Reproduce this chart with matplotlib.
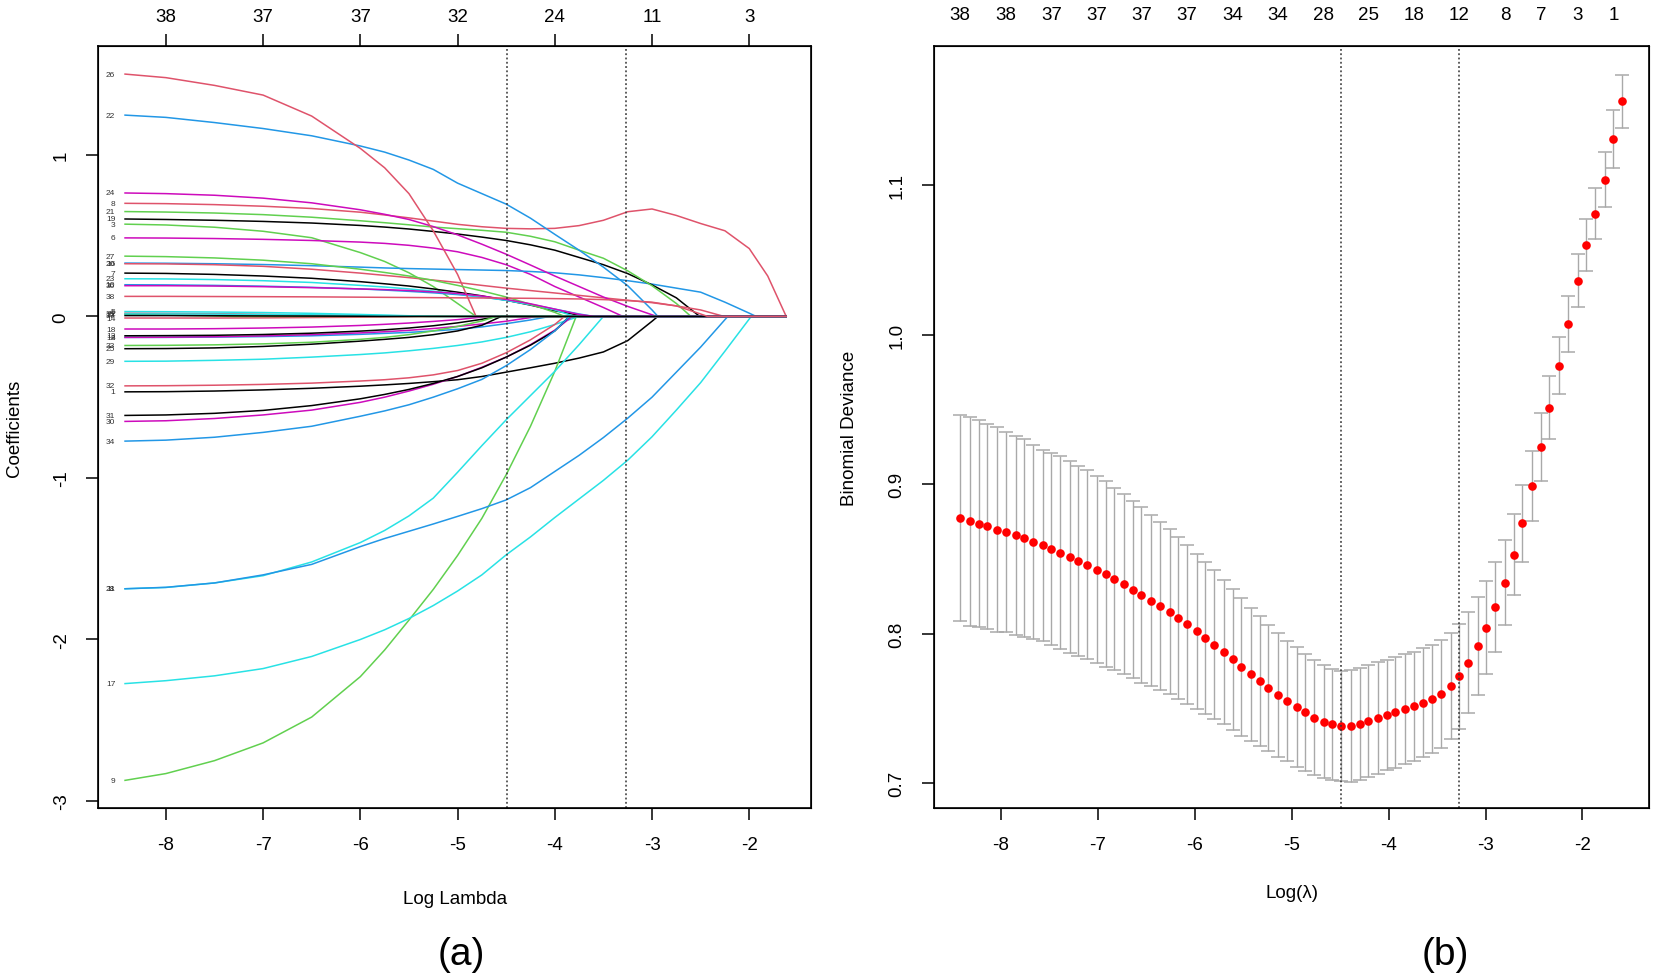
import matplotlib
matplotlib.use("Agg")
import matplotlib.pyplot as plt

plt.rcParams['font.family'] = ['Liberation Sans Narrow', 'Liberation Sans', 'DejaVu Sans']

## Panel (a): lasso coefficient paths
# knots along log(lambda) where the coefficients were read off
path_knots = [-8.42, -8.0, -7.5, -7.0, -6.5, -6.0, -5.75, -5.5, -5.25, -5.0, -4.75, -4.5,
              -4.25, -4.0, -3.75, -3.5, -3.25, -3.0, -2.75, -2.5, -2.25, -2.0, -1.81, -1.62]

# one row per variable (1..38): coefficient at each knot, trailing zeros left out
coef_rows = [
    [-0.467, -0.466, -0.462, -0.455, -0.445, -0.432, -0.424, -0.415, -0.404, -0.392, -0.372, -0.345, -0.318, -0.290, -0.258, -0.220, -0.150, -0.030],
    [0.020, 0.019, 0.017, 0.013, 0.008, 0.003, 0.001],
    [0.571, 0.566, 0.552, 0.527, 0.487, 0.395, 0.340, 0.270, 0.185, 0.080],
    [-0.130, -0.130, -0.128, -0.125, -0.120, -0.111, -0.105, -0.099, -0.090, -0.080, -0.065, -0.045, -0.022],
    [0.030, 0.029, 0.027, 0.024, 0.019, 0.012, 0.008, 0.004],
    [0.486, 0.485, 0.482, 0.477, 0.470, 0.460, 0.452, 0.440, 0.423, 0.400, 0.365, 0.320, 0.260, 0.185, 0.120, 0.055],
    [0.268, 0.266, 0.260, 0.250, 0.236, 0.215, 0.202, 0.188, 0.170, 0.150, 0.127, 0.100, 0.070, 0.035, 0.008],
    [0.700, 0.698, 0.692, 0.682, 0.668, 0.645, 0.628, 0.610, 0.590, 0.570, 0.555, 0.545, 0.542, 0.545, 0.562, 0.595, 0.648, 0.665, 0.625, 0.575, 0.530, 0.420, 0.250],
    [-2.872, -2.830, -2.750, -2.640, -2.480, -2.230, -2.065, -1.880, -1.690, -1.480, -1.250, -0.980, -0.680, -0.340],
    [0.196, 0.195, 0.192, 0.187, 0.180, 0.170, 0.163, 0.155, 0.146, 0.135, 0.120, 0.100, 0.075, 0.045, 0.015],
    [-1.686, -1.678, -1.650, -1.605, -1.520, -1.400, -1.325, -1.235, -1.125, -0.965, -0.800, -0.640, -0.490, -0.340, -0.175],
    [-0.130, -0.129, -0.126, -0.121, -0.113, -0.102, -0.095, -0.086, -0.075, -0.062, -0.047, -0.030, -0.007],
    [-0.120, -0.119, -0.117, -0.112, -0.104, -0.091, -0.083, -0.072, -0.058, -0.040, -0.018],
    [-0.010, -0.010, -0.010, -0.009, -0.007, -0.005, -0.003, -0.001],
    [0.012, 0.008, 0.003],
    [0.330, 0.329, 0.326, 0.321, 0.314, 0.305, 0.300, 0.296, 0.293, 0.290, 0.287, 0.284, 0.278, 0.270, 0.257, 0.240, 0.221, 0.200, 0.175, 0.150, 0.088, 0.020],
    [-2.273, -2.255, -2.225, -2.180, -2.105, -2.000, -1.940, -1.870, -1.790, -1.700, -1.600, -1.476, -1.365, -1.245, -1.130, -1.015, -0.890, -0.745, -0.580, -0.410, -0.215, -0.016],
    [-0.078, -0.078, -0.076, -0.072, -0.066, -0.056, -0.049, -0.041, -0.031, -0.020, -0.004],
    [0.603, 0.600, 0.595, 0.588, 0.578, 0.563, 0.553, 0.541, 0.526, 0.510, 0.491, 0.470, 0.443, 0.410, 0.365, 0.320, 0.265, 0.195, 0.115],
    [0.326, 0.325, 0.320, 0.310, 0.292, 0.268, 0.254, 0.240, 0.225, 0.210, 0.192, 0.175, 0.160, 0.145, 0.130, 0.115, 0.100, 0.085, 0.065, 0.040],
    [0.649, 0.646, 0.640, 0.630, 0.614, 0.592, 0.580, 0.567, 0.553, 0.543, 0.533, 0.521, 0.496, 0.462, 0.410, 0.360, 0.282, 0.190, 0.080],
    [1.246, 1.232, 1.200, 1.163, 1.118, 1.055, 1.017, 0.968, 0.910, 0.825, 0.760, 0.695, 0.608, 0.508, 0.410, 0.305, 0.190, 0.040],
    [0.233, 0.232, 0.228, 0.221, 0.210, 0.192, 0.182, 0.170, 0.156, 0.140, 0.121, 0.100, 0.072, 0.040],
    [0.764, 0.760, 0.750, 0.732, 0.703, 0.660, 0.632, 0.600, 0.556, 0.505, 0.447, 0.385, 0.318, 0.250, 0.185, 0.120, 0.062, 0.010],
    [-0.200, -0.199, -0.195, -0.186, -0.172, -0.153, -0.142, -0.130, -0.113, -0.090, -0.055],
    [1.500, 1.478, 1.430, 1.370, 1.240, 1.040, 0.920, 0.760, 0.530, 0.260],
    [0.373, 0.370, 0.362, 0.348, 0.326, 0.292, 0.272, 0.250, 0.223, 0.192, 0.158, 0.120, 0.075, 0.025],
    [-1.686, -1.677, -1.650, -1.600, -1.535, -1.425, -1.375, -1.330, -1.285, -1.238, -1.190, -1.136, -1.060, -0.960, -0.860, -0.750, -0.630, -0.500, -0.345, -0.190, -0.020],
    [-0.278, -0.277, -0.272, -0.265, -0.252, -0.236, -0.226, -0.213, -0.198, -0.180, -0.158, -0.130, -0.095, -0.050],
    [-0.650, -0.646, -0.632, -0.610, -0.580, -0.532, -0.500, -0.462, -0.420, -0.372, -0.315, -0.252, -0.175, -0.085],
    [-0.613, -0.610, -0.600, -0.582, -0.552, -0.510, -0.483, -0.452, -0.415, -0.372, -0.318, -0.252, -0.178, -0.090],
    [-0.430, -0.429, -0.426, -0.421, -0.413, -0.400, -0.392, -0.380, -0.362, -0.335, -0.290, -0.225, -0.145, -0.050],
    [-0.180, -0.179, -0.176, -0.170, -0.160, -0.142, -0.130, -0.113, -0.090, -0.062, -0.028],
    [-0.772, -0.766, -0.748, -0.718, -0.680, -0.618, -0.585, -0.547, -0.500, -0.448, -0.390, -0.305, -0.205, -0.090],
    [0.015, 0.015, 0.014, 0.012, 0.010, 0.007, 0.005, 0.003, 0.001],
    [0.190, 0.190, 0.188, 0.184, 0.178, 0.170, 0.166, 0.160, 0.152, 0.142, 0.126, 0.105, 0.078, 0.045, 0.012],
    [0.005, 0.005, 0.004, 0.003, 0.002, 0.001],
    [0.124, 0.124, 0.123, 0.122, 0.121, 0.119, 0.118, 0.117, 0.116, 0.115, 0.114, 0.113, 0.112, 0.110, 0.108, 0.104, 0.098, 0.088, 0.065, 0.015],
]

# log(lambda) where each variable drops out of the model
exit_at = [-2.94, -5.60, -4.81, -4.05, -5.30, -3.30, -3.70, -1.62, -3.78, -3.60,
           -3.50, -4.20, -4.60, -5.40, -7.30, -1.93, -1.98, -4.70, -2.51, -2.26,
           -2.60, -2.94, -3.80, -2.95, -4.55, -4.81, -3.90, -2.22, -3.75, -3.82,
           -3.85, -3.90, -4.60, -3.85, -5.15, -3.60, -5.80, -2.43]

top_a_pos = [-8, -7, -6, -5, -4, -3, -2]
top_a_labels = ['38', '37', '37', '32', '24', '11', '3']

## Panel (b): cross-validated binomial deviance
cv_loglam = [-8.42, -8.32, -8.23, -8.14, -8.04, -7.95, -7.85, -7.76, -7.67, -7.57,
             -7.48, -7.39, -7.29, -7.20, -7.11, -7.01, -6.92, -6.83, -6.73, -6.64,
             -6.55, -6.45, -6.36, -6.26, -6.17, -6.08, -5.98, -5.89, -5.80, -5.70,
             -5.61, -5.52, -5.42, -5.33, -5.24, -5.14, -5.05, -4.95, -4.86, -4.77,
             -4.67, -4.58, -4.49, -4.39, -4.30, -4.21, -4.11, -4.02, -3.93, -3.83,
             -3.74, -3.65, -3.55, -3.46, -3.36, -3.27, -3.18, -3.08, -2.99, -2.90,
             -2.80, -2.71, -2.62, -2.52, -2.43, -2.34, -2.24, -2.15, -2.05, -1.96,
             -1.87, -1.77, -1.68, -1.59]
cv_mean = [0.8775, 0.8752, 0.8737, 0.8719, 0.8697, 0.8681, 0.8659, 0.8641, 0.8615, 0.8592,
           0.8570, 0.8543, 0.8516, 0.8487, 0.8463, 0.8429, 0.8398, 0.8367, 0.8334, 0.8296,
           0.8260, 0.8222, 0.8187, 0.8147, 0.8104, 0.8062, 0.8017, 0.7973, 0.7928, 0.7879,
           0.7828, 0.7777, 0.7730, 0.7683, 0.7637, 0.7593, 0.7550, 0.7510, 0.7474, 0.7439,
           0.7413, 0.7394, 0.7383, 0.7385, 0.7396, 0.7417, 0.7435, 0.7457, 0.7475, 0.7495,
           0.7515, 0.7540, 0.7564, 0.7597, 0.7649, 0.7716, 0.7807, 0.7918, 0.8040, 0.8178,
           0.8341, 0.8528, 0.8739, 0.8989, 0.9247, 0.9513, 0.9792, 1.0073, 1.0360, 1.0600,
           1.0810, 1.1035, 1.1309, 1.1560]
cv_se = [0.0690, 0.0700, 0.0690, 0.0686, 0.0685, 0.0668, 0.0665, 0.0662, 0.0648, 0.0640,
         0.0642, 0.0645, 0.0642, 0.0638, 0.0630, 0.0626, 0.0621, 0.0608, 0.0603, 0.0592,
         0.0588, 0.0570, 0.0561, 0.0552, 0.0543, 0.0530, 0.0519, 0.0508, 0.0497, 0.0483,
         0.0470, 0.0463, 0.0445, 0.0436, 0.0421, 0.0414, 0.0403, 0.0400, 0.0390, 0.0385,
         0.0379, 0.0372, 0.0369, 0.0374, 0.0377, 0.0374, 0.0375, 0.0369, 0.0370, 0.0367,
         0.0365, 0.0363, 0.0360, 0.0358, 0.0354, 0.0352, 0.0340, 0.0325, 0.0312, 0.0303,
         0.0285, 0.0270, 0.0258, 0.0236, 0.0227, 0.0210, 0.0190, 0.0186, 0.0177, 0.0172,
         0.0172, 0.0184, 0.0196, 0.0180]

top_b_pos = [-8.42, -7.95, -7.48, -7.01, -6.55, -6.08, -5.61, -5.14, -4.67, -4.21,
             -3.74, -3.27, -2.80, -2.43, -2.05, -1.68]
top_b_labels = ['38', '38', '37', '37', '37', '37', '34', '34', '28', '25',
                '18', '12', '8', '7', '3', '1']

log_lambda_min = -4.49
log_lambda_1se = -3.27

# R default palette (col = 1:6 recycled by matplot)
r_palette = ['#000000', '#DF536B', '#61D04F', '#2297E6', '#28E2E5', '#CD0BBC']

W, H = 1654, 979
fig = plt.figure(figsize=(W / 100, H / 100), dpi=100)
fig.patch.set_facecolor('white')

ax_a = fig.add_axes([98.3 / W, 1 - 808.5 / H, (811 - 98.3) / W, (808.5 - 47.3) / H])
ax_b = fig.add_axes([934.2 / W, 1 - 808.5 / H, (1648.9 - 934.2) / W, (808.5 - 47.3) / H])


def style_axes(ax):
    for sp in ax.spines.values():
        sp.set_linewidth(1.2)
        sp.set_color('black')
    ax.tick_params(direction='out', length=8.6, width=1.1, labelsize=13.5, pad=12, colors='black')
    ax.tick_params(axis='y', labelrotation=90)
    for lab in ax.get_yticklabels():
        lab.set_va('center')


# ---- panel (a)
n_knots = len(path_knots)
for k, row in enumerate(coef_rows):
    full = row + [0] * (n_knots - len(row))
    ex = exit_at[k]
    xs = [x for x in path_knots if x < ex] + [ex] + [x for x in path_knots if x > ex]
    ys = [v for x, v in zip(path_knots, full) if x < ex] + [0] + [0 for x in path_knots if x > ex]
    ax_a.plot(xs, ys, color=r_palette[k % 6], lw=1.1, solid_joinstyle='round')
    ax_a.annotate(str(k + 1), (path_knots[0], full[0]), xytext=(-7, 0), textcoords='offset points',
                  ha='right', va='center', fontsize=6, color='#333333')

ax_a.set_xlim(-8.695, -1.365)
ax_a.set_ylim(-3.04, 1.672)
ax_a.set_xticks([-8, -7, -6, -5, -4, -3, -2])
ax_a.set_xticklabels(['-8', '-7', '-6', '-5', '-4', '-3', '-2'])
ax_a.set_yticks([-3, -2, -1, 0, 1])
ax_a.set_yticklabels(['-3', '-2', '-1', '0', '1'])
style_axes(ax_a)
for x in (log_lambda_min, log_lambda_1se):
    ax_a.axvline(x, color='#333333', lw=1.1, ls=(0, (1.2, 1.6)))

top_a = ax_a.twiny()
top_a.set_xlim(ax_a.get_xlim())
top_a.set_xticks(top_a_pos)
top_a.set_xticklabels(top_a_labels)
top_a.tick_params(direction='out', length=8.6, width=1.1, labelsize=13.5, pad=7)

ax_a.set_xlabel('Log Lambda', fontsize=13.5, va='center')
ax_a.xaxis.set_label_coords(0.5, -0.1202)
ax_a.set_ylabel('Coefficients', fontsize=13.5, va='center')
ax_a.yaxis.set_label_coords(-0.1169, 0.5)

# ---- panel (b)
ax_b.errorbar(cv_loglam, cv_mean, yerr=cv_se, fmt='none', ecolor='#A9A9A9',
              elinewidth=1.0, capsize=5, capthick=1.1)
ax_b.plot(cv_loglam, cv_mean, 'o', color='#FF0000', ms=6.2, mec='none')
for x in (log_lambda_min, log_lambda_1se):
    ax_b.axvline(x, color='#333333', lw=1.1, ls=(0, (1.2, 1.6)))

ax_b.set_xlim(-8.689, -1.314)
ax_b.set_ylim(0.6838, 1.1929)
ax_b.set_xticks([-8, -7, -6, -5, -4, -3, -2])
ax_b.set_xticklabels(['-8', '-7', '-6', '-5', '-4', '-3', '-2'])
ax_b.set_yticks([0.7, 0.8, 0.9, 1.0, 1.1])
ax_b.set_yticklabels(['0.7', '0.8', '0.9', '1.0', '1.1'])
style_axes(ax_b)

top_b = ax_b.twiny()
top_b.set_xlim(ax_b.get_xlim())
top_b.set_xticks(top_b_pos)
top_b.set_xticklabels(top_b_labels)
top_b.tick_params(length=0, labelsize=13.5, pad=17)

ax_b.set_xlabel('Log(\u03bb)', fontsize=13.5, va='center')
ax_b.xaxis.set_label_coords(0.5, -0.1123)
ax_b.set_ylabel('Binomial Deviance', fontsize=13.5, va='center')
ax_b.yaxis.set_label_coords(-0.1192, 0.5)

fig.text(461 / W, 1 - 955 / H, '(a)', fontsize=28, ha='center', va='center')
fig.text(1445 / W, 1 - 955 / H, '(b)', fontsize=28, ha='center', va='center')

fig.savefig('out.png', dpi=100, facecolor='white')
